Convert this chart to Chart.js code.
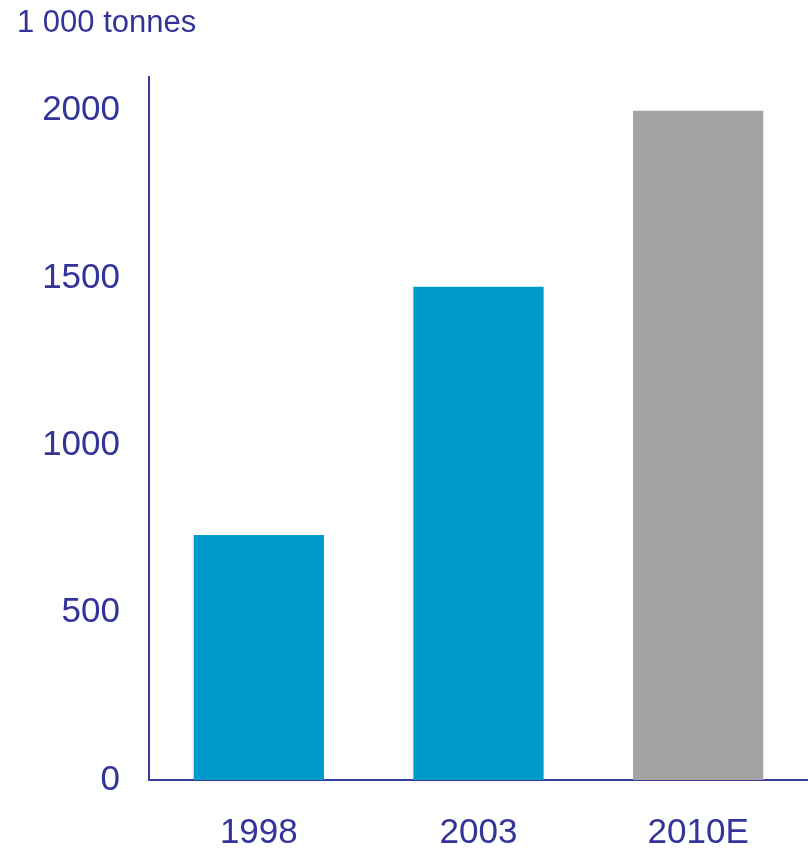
<!DOCTYPE html>
<html>
<head>
<meta charset="utf-8">
<script src="https://cdn.jsdelivr.net/npm/chart.js@4"></script>
<style>
  html, body { margin: 0; padding: 0; background: #fff; }
  #wrap { width: 808px; height: 849px; }
</style>
</head>
<body>
<div id="wrap"><canvas id="prodChart"></canvas></div>
<script>
// Chart values
const years = ['1998', '2003', '2010E'];
const tonnes = [732, 1474, 2000];
const yTicks = [0, 500, 1000, 1500, 2000];

const textColor = '#333399';
const axisColor = '#3b3b9e';

const ctx = document.getElementById('prodChart').getContext('2d');
const prodChart = new Chart(ctx, {
    type: 'bar',
    data: {
        labels: years,
        datasets: [{
            data: tonnes,
            backgroundColor: ['#009acd', '#009acd', '#a3a3a3'],
            categoryPercentage: 1,
            barPercentage: 0.593
        }]
    },
    options: {
        responsive: true,
        maintainAspectRatio: false,
        animation: false,
        layout: { padding: { left: 17, right: 0, top: 0, bottom: 0 } },
        scales: {
            x: {
                grid: { display: false, drawTicks: false },
                border: { display: true, color: axisColor, width: 2 },
                ticks: {
                    color: textColor,
                    font: { family: 'Liberation Sans, Arial, sans-serif', size: 35 },
                    padding: 32
                },
                afterFit: scale => { scale.height = 69; }
            },
            y: {
                min: 0,
                max: 2100,
                grid: { display: false, drawTicks: false },
                border: { display: true, color: axisColor, width: 2 },
                afterBuildTicks: scale => {
                    scale.ticks = yTicks.map(v => ({ value: v }));
                },
                ticks: {
                    color: textColor,
                    font: { family: 'Liberation Sans, Arial, sans-serif', size: 35 },
                    padding: 29,
                    callback: v => String(v)
                },
                afterFit: scale => { scale.width = 132; }
            }
        },
        plugins: {
            legend: { display: false },
            tooltip: { enabled: false },
            title: {
                display: true,
                text: '1 000 tonnes',
                align: 'start',
                color: textColor,
                font: { family: 'Liberation Sans, Arial, sans-serif', size: 31, weight: 'normal' },
                padding: { top: 5, bottom: 35 }
            }
        }
    }
});
</script>
</body>
</html>
